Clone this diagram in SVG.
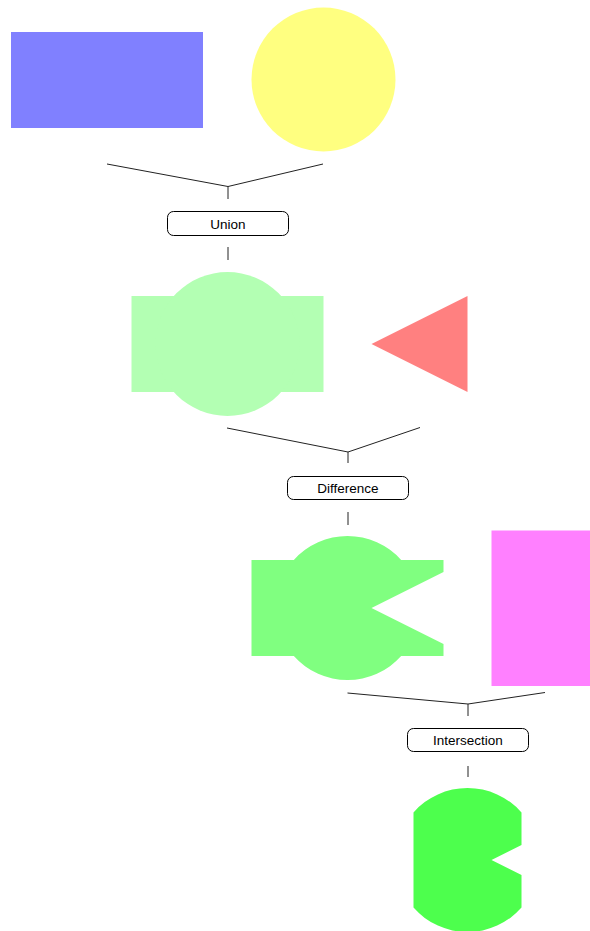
<svg xmlns="http://www.w3.org/2000/svg" width="590" height="931" viewBox="0 0 590 931">
  <style>
    .wire { fill: none; stroke: #222; stroke-width: 1; }
    .op rect { fill: #fff; stroke: #000; stroke-width: 1; }
    .op text { font-family: "Liberation Sans", Arial, sans-serif; font-size: 13.5px; fill: #000; text-anchor: middle; }
  </style>
  <rect width="590" height="931" fill="#fff"/>

  <!-- operands of the first step -->
  <g id="blue-rect"><rect x="11" y="32" width="192" height="96" fill="#8080ff"/></g>
  <g id="yellow-circle"><circle cx="323.5" cy="79.5" r="72" fill="#ffff80"/></g>

  <!-- union step -->
  <g id="union-op" class="op">
    <rect x="167.5" y="211.5" width="121" height="24" rx="6"/>
    <text x="228" y="228.5">Union</text>
  </g>
  <g id="union-result" fill="#b3ffb3">
    <rect x="131.5" y="296" width="192" height="96"/>
    <circle cx="227.5" cy="344" r="72"/>
  </g>
  <g id="red-triangle"><polygon points="371.5,344 467.5,296 467.5,392" fill="#ff8080"/></g>

  <!-- difference step -->
  <g id="difference-op" class="op">
    <rect x="287.5" y="476.5" width="121" height="23" rx="6"/>
    <text x="348" y="493">Difference</text>
  </g>
  <g id="difference-result">
    <path fill="#80ff80" d="M251.5,560 L293.83,560 A72,72 0 0 1 401.17,560 L443.5,560 L443.5,572 L371.5,608 L443.5,644 L443.5,656 L401.17,656 A72,72 0 0 1 293.83,656 L251.5,656 Z"/>
  </g>
  <g id="magenta-rect"><rect x="491.5" y="530.5" width="108" height="155.5" fill="#ff80ff"/></g>

  <!-- intersection step -->
  <g id="intersection-op" class="op">
    <rect x="407.5" y="728.5" width="121" height="23" rx="6"/>
    <text x="468" y="745">Intersection</text>
  </g>
  <g id="intersection-result">
    <path fill="#4dff4d" d="M413.5,812.38 A72,72 0 0 1 521.5,812.38 L521.5,845 L491.5,860 L521.5,875 L521.5,907.62 A72,72 0 0 1 413.5,907.62 Z"/>
  </g>

  <!-- connectors -->
  <g id="connectors" class="wire">
    <path d="M107,164 L228,186.5 L323,164 M228,186.5 L228,199 M228,247 L228,260"/>
    <path d="M227,428 L348,452 L420,427.5 M348,452 L348,463 M348,512 L348,525"/>
    <path d="M347.5,693 L468,704 L545,692.5 M468,704 L468,716 M468,766 L468,777"/>
  </g>
</svg>
